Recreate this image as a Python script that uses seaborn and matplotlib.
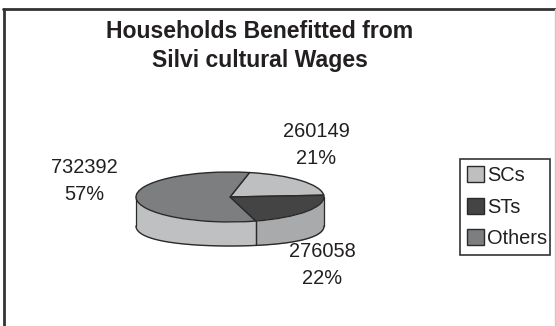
import numpy as np
import matplotlib
matplotlib.use("Agg")
import matplotlib.pyplot as plt
from matplotlib.lines import Line2D
import seaborn as sns

categories = ["SCs", "STs", "Others"]
households = [260149, 276058, 732392]
percent_labels = ["21%", "22%", "57%"]
title_lines = "Households Benefitted from\nSilvi cultural Wages"

top_colors = ["#bdbfc0", "#444444", "#7d7e80"]
wall_colors = {"STs": "#a9aaac", "Others": "#bfc0c2"}
edge = "#2a2a2a"

W, H = 556, 326
CX, CY, RX, RY = 230, 197, 94, 25
START = 78

sns.set_theme(style="white")
plt.rcParams["font.family"] = ["Liberation Sans", "DejaVu Sans"]

fig = plt.figure(figsize=(W / 100, H / 100), dpi=100, facecolor="white")
ax = fig.add_axes([0, 0, 1, 1])

wedges, _ = ax.pie(households, colors=top_colors, startangle=START, counterclock=False,
                   wedgeprops=dict(edgecolor=edge, linewidth=1.0, zorder=3))
ax.set_aspect("auto")
ax.set_xlim(-CX / RX, (W - CX) / RX)
ax.set_ylim((CY - H) / RY, CY / RY)
ax.axis("off")

# Cylinder wall below the lower half of the disc, split where the slices divide
shares = np.cumsum(households) / np.sum(households)
st_end = START - 360 * shares[1]
spans = [("STs", 0, st_end), ("Others", st_end, -180)]
for name, a0, a1 in spans:
    t = np.radians(np.linspace(a0, a1, 80))
    x, y = np.cos(t), np.sin(t)
    depth = 0.96 + 0.2 * x ** 2
    ax.fill_between(x, y, y - depth, color=wall_colors[name], zorder=2, linewidth=0)
    ax.plot(x, y - depth, color=edge, lw=1.0, zorder=2.5)
    ax.plot([x[0], x[0]], [y[0], y[0] - depth[0]], color=edge, lw=0.9, zorder=2.5)
    ax.plot([x[-1], x[-1]], [y[-1], y[-1] - depth[-1]], color=edge, lw=0.9, zorder=2.5)


def fx(px):
    return px / W


def fy(py):
    return 1 - py / H


fig.text(fx(259.5), fy(46), title_lines, ha="center", va="center", fontsize=16.6,
         fontweight="bold", color="#231f20", linespacing=1.38)

label_pos = [(316, 145), (322, 265), (84, 181)]
for value, pct, (px, py) in zip(households, percent_labels, label_pos):
    fig.text(fx(px), fy(py), f"{value}\n{pct}", ha="center", va="center",
             fontsize=14.4, color="#231f20", linespacing=1.5)

leg = fig.legend(wedges, categories, loc="lower left",
                 bbox_to_anchor=(fx(460), fy(255), 90 / W, 92 / H), mode="expand",
                 fontsize=14.4, frameon=True, fancybox=False, framealpha=1,
                 edgecolor="#333333", labelcolor="#231f20", handlelength=0.85,
                 handleheight=0.85, handletextpad=0.15, labelspacing=0.62,
                 borderpad=0.35, borderaxespad=0)
leg.get_frame().set_linewidth(1.2)

# Chart-area border: heavy on the left and top, faint on the right
fig.add_artist(Line2D([fx(4), fx(4)], [0, fy(9)], color="#333333", lw=2.0))
fig.add_artist(Line2D([fx(3), 1], [fy(9), fy(9)], color="#333333", lw=2.0))
fig.add_artist(Line2D([fx(555), fx(555)], [0, fy(9)], color="#c8c8c8", lw=1.0))

fig.savefig("out.png", dpi=100)
